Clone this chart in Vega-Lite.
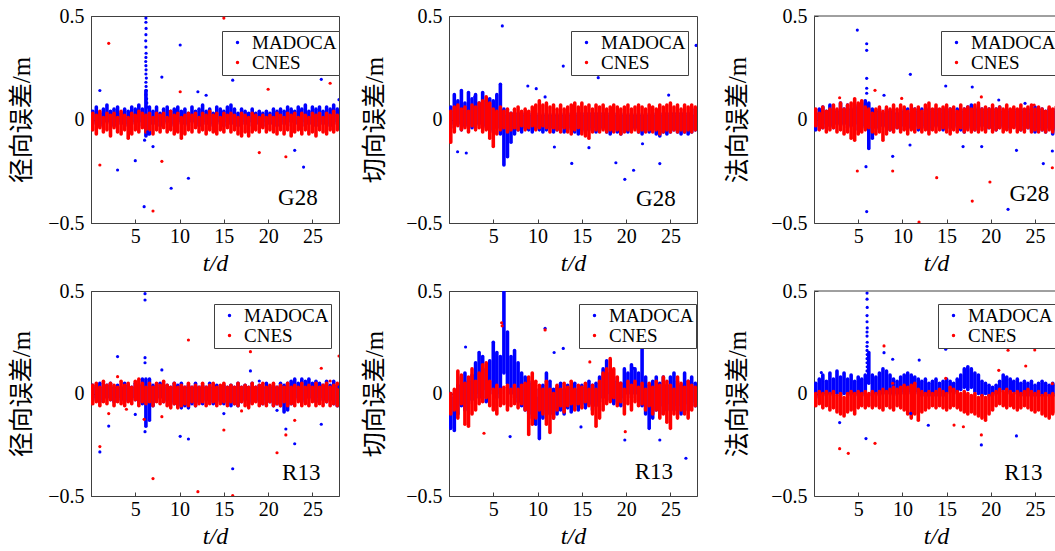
{
"$schema": "https://vega.github.io/schema/vega-lite/v6.json",
"padding": {"left": 9, "top": 5, "right": 0, "bottom": 0},
"background": "white",
"datasets": {
"bands": [
{"k":1,"t":0.2,"a":-0.02,"b":0.04,"c":-0.05,"d":0.03},{"k":1,"t":0.6,"a":-0.01,"b":0.06,"c":-0.07,"d":0.02},{"k":1,"t":1.0,"a":-0.03,"b":0.03,"c":-0.04,"d":0.04},{"k":1,"t":1.4,"a":-0.02,"b":0.05,"c":-0.06,"d":0.01},{"k":1,"t":1.8,"a":-0.01,"b":0.07,"c":-0.05,"d":0.03},{"k":1,"t":2.2,"a":-0.02,"b":0.04,"c":-0.08,"d":0.02},{"k":1,"t":2.6,"a":-0.03,"b":0.05,"c":-0.04,"d":0.03},{"k":1,"t":3.0,"a":-0.01,"b":0.06,"c":-0.06,"d":0.01},{"k":1,"t":3.4,"a":-0.02,"b":0.03,"c":-0.07,"d":0.04},{"k":1,"t":3.8,"a":-0.02,"b":0.05,"c":-0.05,"d":0.02},
{"k":1,"t":4.2,"a":-0.03,"b":0.04,"c":-0.09,"d":0.01},{"k":1,"t":4.6,"a":-0.01,"b":0.06,"c":-0.07,"d":0.03},{"k":1,"t":5.0,"a":-0.02,"b":0.05,"c":-0.05,"d":0.02},{"k":1,"t":5.4,"a":-0.01,"b":0.07,"c":-0.06,"d":0.04},{"k":1,"t":5.8,"a":-0.03,"b":0.05,"c":-0.04,"d":0.03},{"k":1,"t":6.2,"a":-0.08,"b":0.14,"c":-0.06,"d":0.02},{"k":1,"t":6.6,"a":-0.07,"b":0.06,"c":-0.05,"d":0.03},{"k":1,"t":7.0,"a":-0.02,"b":0.04,"c":-0.07,"d":0.01},{"k":1,"t":7.4,"a":-0.01,"b":0.06,"c":-0.05,"d":0.03},{"k":1,"t":7.8,"a":-0.03,"b":0.03,"c":-0.06,"d":0.02},
{"k":1,"t":8.2,"a":-0.02,"b":0.05,"c":-0.04,"d":0.03},{"k":1,"t":8.6,"a":-0.01,"b":0.06,"c":-0.06,"d":0.01},{"k":1,"t":9.0,"a":-0.02,"b":0.04,"c":-0.05,"d":0.04},{"k":1,"t":9.4,"a":-0.03,"b":0.05,"c":-0.07,"d":0.02},{"k":1,"t":9.8,"a":-0.01,"b":0.06,"c":-0.06,"d":0.03},{"k":1,"t":10.2,"a":-0.02,"b":0.04,"c":-0.09,"d":0.01},{"k":1,"t":10.6,"a":-0.02,"b":0.05,"c":-0.07,"d":0.02},{"k":1,"t":11.0,"a":-0.03,"b":0.03,"c":-0.05,"d":0.03},{"k":1,"t":11.4,"a":-0.01,"b":0.06,"c":-0.06,"d":0.02},{"k":1,"t":11.8,"a":-0.02,"b":0.04,"c":-0.04,"d":0.03},
{"k":1,"t":12.2,"a":-0.03,"b":0.05,"c":-0.06,"d":0.01},{"k":1,"t":12.6,"a":-0.01,"b":0.07,"c":-0.05,"d":0.03},{"k":1,"t":13.0,"a":-0.02,"b":0.04,"c":-0.07,"d":0.02},{"k":1,"t":13.4,"a":-0.02,"b":0.05,"c":-0.05,"d":0.04},{"k":1,"t":13.8,"a":-0.03,"b":0.03,"c":-0.06,"d":0.02},{"k":1,"t":14.2,"a":-0.01,"b":0.06,"c":-0.07,"d":0.03},{"k":1,"t":14.6,"a":-0.02,"b":0.05,"c":-0.05,"d":0.01},{"k":1,"t":15.0,"a":-0.03,"b":0.04,"c":-0.06,"d":0.03},{"k":1,"t":15.4,"a":-0.01,"b":0.06,"c":-0.04,"d":0.02},{"k":1,"t":15.8,"a":-0.02,"b":0.07,"c":-0.06,"d":0.03},
{"k":1,"t":16.2,"a":-0.02,"b":0.05,"c":-0.05,"d":0.02},{"k":1,"t":16.6,"a":-0.03,"b":0.03,"c":-0.07,"d":0.01},{"k":1,"t":17.0,"a":-0.01,"b":0.05,"c":-0.08,"d":0.03},{"k":1,"t":17.4,"a":-0.02,"b":0.04,"c":-0.06,"d":0.02},{"k":1,"t":17.8,"a":-0.03,"b":0.03,"c":-0.08,"d":0.01},{"k":1,"t":18.2,"a":-0.01,"b":0.05,"c":-0.06,"d":0.03},{"k":1,"t":18.6,"a":-0.02,"b":0.03,"c":-0.05,"d":0.02},{"k":1,"t":19.0,"a":-0.02,"b":0.04,"c":-0.06,"d":0.01},{"k":1,"t":19.4,"a":-0.03,"b":0.03,"c":-0.04,"d":0.02},{"k":1,"t":19.8,"a":-0.01,"b":0.04,"c":-0.06,"d":0.01},
{"k":1,"t":20.2,"a":-0.02,"b":0.03,"c":-0.05,"d":0.02},{"k":1,"t":20.6,"a":-0.02,"b":0.05,"c":-0.06,"d":0.01},{"k":1,"t":21.0,"a":-0.03,"b":0.04,"c":-0.07,"d":0.03},{"k":1,"t":21.4,"a":-0.01,"b":0.05,"c":-0.05,"d":0.02},{"k":1,"t":21.8,"a":-0.02,"b":0.04,"c":-0.07,"d":0.01},{"k":1,"t":22.2,"a":-0.03,"b":0.06,"c":-0.05,"d":0.03},{"k":1,"t":22.6,"a":-0.01,"b":0.05,"c":-0.08,"d":0.02},{"k":1,"t":23.0,"a":-0.02,"b":0.04,"c":-0.06,"d":0.03},{"k":1,"t":23.4,"a":-0.02,"b":0.06,"c":-0.05,"d":0.01},{"k":1,"t":23.8,"a":-0.03,"b":0.05,"c":-0.07,"d":0.03},
{"k":1,"t":24.2,"a":-0.01,"b":0.07,"c":-0.05,"d":0.02},{"k":1,"t":24.6,"a":-0.02,"b":0.04,"c":-0.07,"d":0.01},{"k":1,"t":25.0,"a":-0.02,"b":0.06,"c":-0.06,"d":0.03},{"k":1,"t":25.4,"a":-0.03,"b":0.05,"c":-0.08,"d":0.02},{"k":1,"t":25.8,"a":-0.01,"b":0.06,"c":-0.05,"d":0.03},{"k":1,"t":26.2,"a":-0.02,"b":0.04,"c":-0.06,"d":0.01},{"k":1,"t":26.6,"a":-0.02,"b":0.06,"c":-0.07,"d":0.03},{"k":1,"t":27.0,"a":-0.03,"b":0.05,"c":-0.05,"d":0.02},{"k":1,"t":27.4,"a":-0.01,"b":0.07,"c":-0.06,"d":0.04},{"k":1,"t":27.8,"a":-0.02,"b":0.05,"c":-0.05,"d":0.02},

{"k":2,"t":0.2,"a":-0.02,"b":0.06,"c":-0.11,"d":0.04},{"k":2,"t":0.6,"a":-0.04,"b":0.12,"c":-0.06,"d":0.06},{"k":2,"t":1.0,"a":-0.02,"b":0.09,"c":-0.03,"d":0.07},{"k":2,"t":1.4,"a":-0.05,"b":0.14,"c":-0.05,"d":0.05},{"k":2,"t":1.8,"a":-0.03,"b":0.08,"c":-0.04,"d":0.06},{"k":2,"t":2.2,"a":-0.02,"b":0.13,"c":-0.06,"d":0.04},{"k":2,"t":2.6,"a":-0.04,"b":0.10,"c":-0.03,"d":0.07},{"k":2,"t":3.0,"a":-0.03,"b":0.12,"c":-0.05,"d":0.06},{"k":2,"t":3.4,"a":-0.02,"b":0.08,"c":-0.04,"d":0.08},{"k":2,"t":3.8,"a":-0.04,"b":0.13,"c":-0.06,"d":0.09},
{"k":2,"t":4.2,"a":-0.03,"b":0.09,"c":-0.05,"d":0.11},{"k":2,"t":4.6,"a":-0.05,"b":0.10,"c":-0.09,"d":0.08},{"k":2,"t":5.0,"a":-0.06,"b":0.09,"c":-0.13,"d":0.05},{"k":2,"t":5.4,"a":-0.04,"b":0.12,"c":-0.07,"d":0.04},{"k":2,"t":5.8,"a":-0.07,"b":0.17,"c":-0.05,"d":0.06},{"k":2,"t":6.2,"a":-0.22,"b":0.05,"c":-0.04,"d":0.04},{"k":2,"t":6.6,"a":-0.18,"b":0.02,"c":-0.06,"d":0.05},{"k":2,"t":7.0,"a":-0.11,"b":0.03,"c":-0.05,"d":0.03},{"k":2,"t":7.4,"a":-0.07,"b":0.02,"c":-0.04,"d":0.05},{"k":2,"t":7.8,"a":-0.05,"b":0.03,"c":-0.05,"d":0.06},
{"k":2,"t":8.2,"a":-0.06,"b":0.02,"c":-0.03,"d":0.04},{"k":2,"t":8.6,"a":-0.04,"b":0.03,"c":-0.05,"d":0.05},{"k":2,"t":9.0,"a":-0.05,"b":0.02,"c":-0.04,"d":0.04},{"k":2,"t":9.4,"a":-0.06,"b":0.03,"c":-0.03,"d":0.06},{"k":2,"t":9.8,"a":-0.04,"b":0.02,"c":-0.05,"d":0.07},{"k":2,"t":10.2,"a":-0.05,"b":0.03,"c":-0.04,"d":0.09},{"k":2,"t":10.6,"a":-0.06,"b":0.02,"c":-0.03,"d":0.07},{"k":2,"t":11.0,"a":-0.05,"b":0.03,"c":-0.04,"d":0.08},{"k":2,"t":11.4,"a":-0.04,"b":0.02,"c":-0.06,"d":0.06},{"k":2,"t":11.8,"a":-0.06,"b":0.03,"c":-0.04,"d":0.07},
{"k":2,"t":12.2,"a":-0.05,"b":0.02,"c":-0.05,"d":0.05},{"k":2,"t":12.6,"a":-0.04,"b":0.03,"c":-0.06,"d":0.07},{"k":2,"t":13.0,"a":-0.06,"b":0.02,"c":-0.04,"d":0.05},{"k":2,"t":13.4,"a":-0.05,"b":0.03,"c":-0.06,"d":0.06},{"k":2,"t":13.8,"a":-0.04,"b":0.02,"c":-0.07,"d":0.07},{"k":2,"t":14.2,"a":-0.06,"b":0.03,"c":-0.05,"d":0.08},{"k":2,"t":14.6,"a":-0.07,"b":0.02,"c":-0.04,"d":0.06},{"k":2,"t":15.0,"a":-0.05,"b":0.03,"c":-0.07,"d":0.08},{"k":2,"t":15.4,"a":-0.06,"b":0.02,"c":-0.08,"d":0.06},{"k":2,"t":15.8,"a":-0.05,"b":0.03,"c":-0.09,"d":0.07},
{"k":2,"t":16.2,"a":-0.04,"b":0.02,"c":-0.06,"d":0.05},{"k":2,"t":16.6,"a":-0.06,"b":0.03,"c":-0.05,"d":0.07},{"k":2,"t":17.0,"a":-0.05,"b":0.02,"c":-0.06,"d":0.06},{"k":2,"t":17.4,"a":-0.04,"b":0.03,"c":-0.05,"d":0.07},{"k":2,"t":17.8,"a":-0.06,"b":0.02,"c":-0.06,"d":0.05},{"k":2,"t":18.2,"a":-0.07,"b":0.03,"c":-0.05,"d":0.06},{"k":2,"t":18.6,"a":-0.05,"b":0.02,"c":-0.06,"d":0.07},{"k":2,"t":19.0,"a":-0.06,"b":0.03,"c":-0.05,"d":0.06},{"k":2,"t":19.4,"a":-0.07,"b":0.02,"c":-0.07,"d":0.05},{"k":2,"t":19.8,"a":-0.05,"b":0.03,"c":-0.06,"d":0.06},
{"k":2,"t":20.2,"a":-0.06,"b":0.02,"c":-0.05,"d":0.07},{"k":2,"t":20.6,"a":-0.05,"b":0.03,"c":-0.06,"d":0.05},{"k":2,"t":21.0,"a":-0.04,"b":0.02,"c":-0.05,"d":0.06},{"k":2,"t":21.4,"a":-0.06,"b":0.03,"c":-0.06,"d":0.07},{"k":2,"t":21.8,"a":-0.07,"b":0.02,"c":-0.05,"d":0.06},{"k":2,"t":22.2,"a":-0.05,"b":0.03,"c":-0.06,"d":0.05},{"k":2,"t":22.6,"a":-0.06,"b":0.02,"c":-0.05,"d":0.07},{"k":2,"t":23.0,"a":-0.05,"b":0.03,"c":-0.06,"d":0.06},{"k":2,"t":23.4,"a":-0.07,"b":0.02,"c":-0.05,"d":0.05},{"k":2,"t":23.8,"a":-0.08,"b":0.03,"c":-0.07,"d":0.07},
{"k":2,"t":24.2,"a":-0.06,"b":0.02,"c":-0.06,"d":0.06},{"k":2,"t":24.6,"a":-0.07,"b":0.03,"c":-0.05,"d":0.07},{"k":2,"t":25.0,"a":-0.06,"b":0.02,"c":-0.06,"d":0.08},{"k":2,"t":25.4,"a":-0.05,"b":0.03,"c":-0.05,"d":0.06},{"k":2,"t":25.8,"a":-0.06,"b":0.02,"c":-0.06,"d":0.07},{"k":2,"t":26.2,"a":-0.07,"b":0.03,"c":-0.05,"d":0.05},{"k":2,"t":26.6,"a":-0.06,"b":0.02,"c":-0.06,"d":0.07},{"k":2,"t":27.0,"a":-0.07,"b":0.03,"c":-0.05,"d":0.06},{"k":2,"t":27.4,"a":-0.06,"b":0.02,"c":-0.06,"d":0.07},{"k":2,"t":27.8,"a":-0.05,"b":0.05,"c":-0.05,"d":0.06},

{"k":3,"t":0.2,"a":-0.05,"b":0.03,"c":-0.03,"d":0.05},{"k":3,"t":0.6,"a":-0.03,"b":0.05,"c":-0.05,"d":0.03},{"k":3,"t":1.0,"a":-0.04,"b":0.06,"c":-0.04,"d":0.06},{"k":3,"t":1.4,"a":-0.02,"b":0.04,"c":-0.06,"d":0.04},{"k":3,"t":1.8,"a":-0.03,"b":0.07,"c":-0.05,"d":0.05},{"k":3,"t":2.2,"a":-0.04,"b":0.05,"c":-0.04,"d":0.07},{"k":3,"t":2.6,"a":-0.02,"b":0.04,"c":-0.06,"d":0.05},{"k":3,"t":3.0,"a":-0.03,"b":0.08,"c":-0.05,"d":0.08},{"k":3,"t":3.4,"a":-0.02,"b":0.05,"c":-0.07,"d":0.05},{"k":3,"t":3.8,"a":-0.04,"b":0.07,"c":-0.06,"d":0.07},
{"k":3,"t":4.2,"a":-0.03,"b":0.05,"c":-0.09,"d":0.08},{"k":3,"t":4.6,"a":-0.02,"b":0.06,"c":-0.10,"d":0.10},{"k":3,"t":5.0,"a":-0.05,"b":0.07,"c":-0.07,"d":0.08},{"k":3,"t":5.4,"a":-0.03,"b":0.08,"c":-0.06,"d":0.09},{"k":3,"t":5.8,"a":-0.04,"b":0.09,"c":-0.05,"d":0.06},{"k":3,"t":6.2,"a":-0.14,"b":0.08,"c":-0.04,"d":0.05},{"k":3,"t":6.6,"a":-0.09,"b":0.05,"c":-0.06,"d":0.03},{"k":3,"t":7.0,"a":-0.04,"b":0.04,"c":-0.07,"d":0.05},{"k":3,"t":7.4,"a":-0.05,"b":0.05,"c":-0.06,"d":0.06},{"k":3,"t":7.8,"a":-0.03,"b":0.03,"c":-0.10,"d":0.04},
{"k":3,"t":8.2,"a":-0.04,"b":0.05,"c":-0.07,"d":0.06},{"k":3,"t":8.6,"a":-0.05,"b":0.04,"c":-0.05,"d":0.05},{"k":3,"t":9.0,"a":-0.03,"b":0.05,"c":-0.06,"d":0.07},{"k":3,"t":9.4,"a":-0.04,"b":0.03,"c":-0.04,"d":0.05},{"k":3,"t":9.8,"a":-0.05,"b":0.05,"c":-0.06,"d":0.07},{"k":3,"t":10.2,"a":-0.03,"b":0.04,"c":-0.05,"d":0.06},{"k":3,"t":10.6,"a":-0.04,"b":0.05,"c":-0.07,"d":0.04},{"k":3,"t":11.0,"a":-0.04,"b":0.03,"c":-0.05,"d":0.07},{"k":3,"t":11.4,"a":-0.03,"b":0.05,"c":-0.06,"d":0.05},{"k":3,"t":11.8,"a":-0.05,"b":0.04,"c":-0.04,"d":0.06},
{"k":3,"t":12.2,"a":-0.04,"b":0.05,"c":-0.06,"d":0.04},{"k":3,"t":12.6,"a":-0.03,"b":0.03,"c":-0.05,"d":0.07},{"k":3,"t":13.0,"a":-0.05,"b":0.05,"c":-0.07,"d":0.08},{"k":3,"t":13.4,"a":-0.04,"b":0.04,"c":-0.05,"d":0.05},{"k":3,"t":13.8,"a":-0.03,"b":0.05,"c":-0.06,"d":0.07},{"k":3,"t":14.2,"a":-0.04,"b":0.03,"c":-0.05,"d":0.05},{"k":3,"t":14.6,"a":-0.05,"b":0.05,"c":-0.04,"d":0.06},{"k":3,"t":15.0,"a":-0.03,"b":0.04,"c":-0.06,"d":0.07},{"k":3,"t":15.4,"a":-0.04,"b":0.05,"c":-0.07,"d":0.05},{"k":3,"t":15.8,"a":-0.04,"b":0.03,"c":-0.05,"d":0.06},
{"k":3,"t":16.2,"a":-0.03,"b":0.05,"c":-0.06,"d":0.04},{"k":3,"t":16.6,"a":-0.05,"b":0.04,"c":-0.04,"d":0.07},{"k":3,"t":17.0,"a":-0.06,"b":0.05,"c":-0.06,"d":0.05},{"k":3,"t":17.4,"a":-0.04,"b":0.06,"c":-0.05,"d":0.06},{"k":3,"t":17.8,"a":-0.03,"b":0.07,"c":-0.06,"d":0.05},{"k":3,"t":18.2,"a":-0.05,"b":0.05,"c":-0.05,"d":0.07},{"k":3,"t":18.6,"a":-0.04,"b":0.06,"c":-0.06,"d":0.08},{"k":3,"t":19.0,"a":-0.03,"b":0.05,"c":-0.05,"d":0.05},{"k":3,"t":19.4,"a":-0.05,"b":0.04,"c":-0.06,"d":0.06},{"k":3,"t":19.8,"a":-0.04,"b":0.05,"c":-0.04,"d":0.05},
{"k":3,"t":20.2,"a":-0.03,"b":0.04,"c":-0.06,"d":0.07},{"k":3,"t":20.6,"a":-0.05,"b":0.05,"c":-0.05,"d":0.05},{"k":3,"t":21.0,"a":-0.04,"b":0.06,"c":-0.04,"d":0.06},{"k":3,"t":21.4,"a":-0.03,"b":0.04,"c":-0.06,"d":0.05},{"k":3,"t":21.8,"a":-0.04,"b":0.05,"c":-0.05,"d":0.07},{"k":3,"t":22.2,"a":-0.05,"b":0.04,"c":-0.06,"d":0.05},{"k":3,"t":22.6,"a":-0.03,"b":0.05,"c":-0.04,"d":0.06},{"k":3,"t":23.0,"a":-0.04,"b":0.04,"c":-0.06,"d":0.05},{"k":3,"t":23.4,"a":-0.05,"b":0.05,"c":-0.05,"d":0.07},{"k":3,"t":23.8,"a":-0.03,"b":0.04,"c":-0.06,"d":0.05},
{"k":3,"t":24.2,"a":-0.04,"b":0.05,"c":-0.04,"d":0.06},{"k":3,"t":24.6,"a":-0.05,"b":0.03,"c":-0.06,"d":0.07},{"k":3,"t":25.0,"a":-0.06,"b":0.06,"c":-0.05,"d":0.05},{"k":3,"t":25.4,"a":-0.04,"b":0.04,"c":-0.06,"d":0.06},{"k":3,"t":25.8,"a":-0.05,"b":0.05,"c":-0.05,"d":0.05},{"k":3,"t":26.2,"a":-0.06,"b":0.04,"c":-0.06,"d":0.04},{"k":3,"t":26.6,"a":-0.04,"b":0.05,"c":-0.05,"d":0.06},{"k":3,"t":27.0,"a":-0.07,"b":0.04,"c":-0.06,"d":0.05},{"k":3,"t":27.4,"a":-0.05,"b":0.05,"c":-0.04,"d":0.06},{"k":3,"t":27.8,"a":-0.04,"b":0.04,"c":-0.06,"d":0.05},

{"k":4,"t":0.2,"a":-0.03,"b":0.04,"c":-0.05,"d":0.04},{"k":4,"t":0.6,"a":-0.02,"b":0.03,"c":-0.04,"d":0.05},{"k":4,"t":1.0,"a":-0.04,"b":0.05,"c":-0.06,"d":0.03},{"k":4,"t":1.4,"a":-0.03,"b":0.03,"c":-0.04,"d":0.06},{"k":4,"t":1.8,"a":-0.02,"b":0.04,"c":-0.05,"d":0.04},{"k":4,"t":2.2,"a":-0.03,"b":0.05,"c":-0.03,"d":0.05},{"k":4,"t":2.6,"a":-0.04,"b":0.03,"c":-0.06,"d":0.04},{"k":4,"t":3.0,"a":-0.02,"b":0.04,"c":-0.04,"d":0.03},{"k":4,"t":3.4,"a":-0.03,"b":0.03,"c":-0.05,"d":0.06},{"k":4,"t":3.8,"a":-0.04,"b":0.05,"c":-0.06,"d":0.04},
{"k":4,"t":4.2,"a":-0.03,"b":0.04,"c":-0.04,"d":0.05},{"k":4,"t":4.6,"a":-0.02,"b":0.03,"c":-0.05,"d":0.03},{"k":4,"t":5.0,"a":-0.03,"b":0.05,"c":-0.03,"d":0.06},{"k":4,"t":5.4,"a":-0.04,"b":0.04,"c":-0.06,"d":0.07},{"k":4,"t":5.8,"a":-0.05,"b":0.07,"c":-0.04,"d":0.05},{"k":4,"t":6.2,"a":-0.16,"b":0.07,"c":-0.05,"d":0.03},{"k":4,"t":6.6,"a":-0.13,"b":0.07,"c":-0.04,"d":0.05},{"k":4,"t":7.0,"a":-0.06,"b":0.04,"c":-0.06,"d":0.03},{"k":4,"t":7.4,"a":-0.03,"b":0.03,"c":-0.04,"d":0.05},{"k":4,"t":7.8,"a":-0.02,"b":0.05,"c":-0.05,"d":0.04},
{"k":4,"t":8.2,"a":-0.04,"b":0.03,"c":-0.04,"d":0.06},{"k":4,"t":8.6,"a":-0.03,"b":0.04,"c":-0.06,"d":0.04},{"k":4,"t":9.0,"a":-0.04,"b":0.03,"c":-0.07,"d":0.03},{"k":4,"t":9.4,"a":-0.05,"b":0.05,"c":-0.05,"d":0.05},{"k":4,"t":9.8,"a":-0.06,"b":0.04,"c":-0.07,"d":0.03},{"k":4,"t":10.2,"a":-0.07,"b":0.05,"c":-0.06,"d":0.04},{"k":4,"t":10.6,"a":-0.06,"b":0.03,"c":-0.05,"d":0.03},{"k":4,"t":11.0,"a":-0.07,"b":0.04,"c":-0.06,"d":0.05},{"k":4,"t":11.4,"a":-0.05,"b":0.03,"c":-0.04,"d":0.03},{"k":4,"t":11.8,"a":-0.06,"b":0.05,"c":-0.06,"d":0.04},
{"k":4,"t":12.2,"a":-0.04,"b":0.03,"c":-0.05,"d":0.03},{"k":4,"t":12.6,"a":-0.05,"b":0.04,"c":-0.04,"d":0.05},{"k":4,"t":13.0,"a":-0.03,"b":0.03,"c":-0.06,"d":0.03},{"k":4,"t":13.4,"a":-0.04,"b":0.05,"c":-0.05,"d":0.04},{"k":4,"t":13.8,"a":-0.05,"b":0.03,"c":-0.04,"d":0.05},{"k":4,"t":14.2,"a":-0.03,"b":0.04,"c":-0.06,"d":0.03},{"k":4,"t":14.6,"a":-0.04,"b":0.03,"c":-0.05,"d":0.04},{"k":4,"t":15.0,"a":-0.05,"b":0.04,"c":-0.04,"d":0.05},{"k":4,"t":15.4,"a":-0.04,"b":0.03,"c":-0.06,"d":0.03},{"k":4,"t":15.8,"a":-0.06,"b":0.04,"c":-0.04,"d":0.04},
{"k":4,"t":16.2,"a":-0.05,"b":0.03,"c":-0.05,"d":0.03},{"k":4,"t":16.6,"a":-0.06,"b":0.05,"c":-0.06,"d":0.05},{"k":4,"t":17.0,"a":-0.04,"b":0.03,"c":-0.04,"d":0.03},{"k":4,"t":17.4,"a":-0.03,"b":0.04,"c":-0.06,"d":0.04},{"k":4,"t":17.8,"a":-0.05,"b":0.03,"c":-0.07,"d":0.03},{"k":4,"t":18.2,"a":-0.04,"b":0.05,"c":-0.05,"d":0.05},{"k":4,"t":18.6,"a":-0.03,"b":0.03,"c":-0.04,"d":0.03},{"k":4,"t":19.0,"a":-0.04,"b":0.04,"c":-0.06,"d":0.04},{"k":4,"t":19.4,"a":-0.05,"b":0.03,"c":-0.05,"d":0.05},{"k":4,"t":19.8,"a":-0.03,"b":0.05,"c":-0.06,"d":0.03},
{"k":4,"t":20.2,"a":-0.04,"b":0.03,"c":-0.04,"d":0.04},{"k":4,"t":20.6,"a":-0.06,"b":0.04,"c":-0.06,"d":0.05},{"k":4,"t":21.0,"a":-0.05,"b":0.03,"c":-0.05,"d":0.03},{"k":4,"t":21.4,"a":-0.06,"b":0.05,"c":-0.06,"d":0.04},{"k":4,"t":21.8,"a":-0.09,"b":0.04,"c":-0.04,"d":0.03},{"k":4,"t":22.2,"a":-0.08,"b":0.05,"c":-0.06,"d":0.05},{"k":4,"t":22.6,"a":-0.05,"b":0.06,"c":-0.05,"d":0.03},{"k":4,"t":23.0,"a":-0.03,"b":0.07,"c":-0.06,"d":0.04},{"k":4,"t":23.4,"a":-0.02,"b":0.05,"c":-0.04,"d":0.03},{"k":4,"t":23.8,"a":-0.04,"b":0.07,"c":-0.06,"d":0.05},
{"k":4,"t":24.2,"a":-0.03,"b":0.06,"c":-0.05,"d":0.03},{"k":4,"t":24.6,"a":-0.02,"b":0.07,"c":-0.06,"d":0.04},{"k":4,"t":25.0,"a":-0.03,"b":0.05,"c":-0.04,"d":0.03},{"k":4,"t":25.4,"a":-0.04,"b":0.06,"c":-0.06,"d":0.05},{"k":4,"t":25.8,"a":-0.02,"b":0.05,"c":-0.05,"d":0.03},{"k":4,"t":26.2,"a":-0.03,"b":0.04,"c":-0.06,"d":0.04},{"k":4,"t":26.6,"a":-0.04,"b":0.06,"c":-0.04,"d":0.05},{"k":4,"t":27.0,"a":-0.03,"b":0.04,"c":-0.06,"d":0.03},{"k":4,"t":27.4,"a":-0.05,"b":0.06,"c":-0.05,"d":0.04},{"k":4,"t":27.8,"a":-0.06,"b":0.04,"c":-0.06,"d":0.05},

{"k":5,"t":0.2,"a":-0.17,"b":0.0,"c":-0.10,"d":0.0},{"k":5,"t":0.6,"a":-0.18,"b":-0.02,"c":-0.08,"d":0.02},{"k":5,"t":1.0,"a":-0.10,"b":0.04,"c":-0.12,"d":0.11},{"k":5,"t":1.4,"a":-0.06,"b":0.08,"c":-0.05,"d":0.09},{"k":5,"t":1.8,"a":-0.08,"b":0.10,"c":-0.15,"d":0.05},{"k":5,"t":2.2,"a":-0.05,"b":0.06,"c":-0.16,"d":0.08},{"k":5,"t":2.6,"a":-0.03,"b":0.09,"c":-0.10,"d":0.12},{"k":5,"t":3.0,"a":0.0,"b":0.15,"c":-0.08,"d":0.06},{"k":5,"t":3.4,"a":-0.02,"b":0.20,"c":-0.05,"d":0.10},{"k":5,"t":3.8,"a":0.02,"b":0.18,"c":-0.04,"d":0.14},
{"k":5,"t":4.2,"a":-0.04,"b":0.12,"c":-0.02,"d":0.15},{"k":5,"t":4.6,"a":0.0,"b":0.16,"c":-0.06,"d":0.06},{"k":5,"t":5.0,"a":0.02,"b":0.25,"c":-0.08,"d":0.02},{"k":5,"t":5.4,"a":-0.02,"b":0.20,"c":-0.10,"d":0.04},{"k":5,"t":5.8,"a":0.0,"b":0.18,"c":-0.06,"d":0.02},{"k":5,"t":6.2,"a":0.10,"b":0.50,"c":-0.05,"d":0.03},{"k":5,"t":6.6,"a":0.05,"b":0.30,"c":-0.08,"d":0.04},{"k":5,"t":7.0,"a":0.0,"b":0.18,"c":-0.06,"d":0.02},{"k":5,"t":7.4,"a":-0.02,"b":0.21,"c":-0.05,"d":0.04},{"k":5,"t":7.8,"a":-0.04,"b":0.15,"c":-0.07,"d":0.02},
{"k":5,"t":8.2,"a":-0.06,"b":0.10,"c":-0.05,"d":0.04},{"k":5,"t":8.6,"a":-0.08,"b":0.08,"c":-0.08,"d":0.05},{"k":5,"t":9.0,"a":-0.10,"b":0.06,"c":-0.20,"d":0.08},{"k":5,"t":9.4,"a":-0.12,"b":0.05,"c":-0.15,"d":0.10},{"k":5,"t":9.8,"a":-0.15,"b":0.02,"c":-0.12,"d":0.06},{"k":5,"t":10.2,"a":-0.22,"b":-0.02,"c":-0.08,"d":0.04},{"k":5,"t":10.6,"a":-0.12,"b":0.04,"c":-0.10,"d":0.02},{"k":5,"t":11.0,"a":-0.08,"b":0.10,"c":-0.15,"d":0.06},{"k":5,"t":11.4,"a":-0.10,"b":0.06,"c":-0.19,"d":0.02},{"k":5,"t":11.8,"a":-0.12,"b":0.02,"c":-0.12,"d":0.0},
{"k":5,"t":12.2,"a":-0.10,"b":0.03,"c":-0.08,"d":0.04},{"k":5,"t":12.6,"a":-0.08,"b":0.05,"c":-0.06,"d":0.02},{"k":5,"t":13.0,"a":-0.10,"b":0.02,"c":-0.09,"d":0.05},{"k":5,"t":13.4,"a":-0.07,"b":0.04,"c":-0.06,"d":0.03},{"k":5,"t":13.8,"a":-0.09,"b":0.03,"c":-0.05,"d":0.06},{"k":5,"t":14.2,"a":-0.06,"b":0.05,"c":-0.08,"d":0.02},{"k":5,"t":14.6,"a":-0.08,"b":0.02,"c":-0.05,"d":0.04},{"k":5,"t":15.0,"a":-0.05,"b":0.04,"c":-0.07,"d":0.03},{"k":5,"t":15.4,"a":-0.07,"b":0.03,"c":-0.04,"d":0.05},{"k":5,"t":15.8,"a":-0.05,"b":0.06,"c":-0.06,"d":0.02},
{"k":5,"t":16.2,"a":-0.08,"b":0.04,"c":-0.10,"d":0.04},{"k":5,"t":16.6,"a":-0.06,"b":0.05,"c":-0.16,"d":0.02},{"k":5,"t":17.0,"a":-0.04,"b":0.08,"c":-0.12,"d":0.06},{"k":5,"t":17.4,"a":-0.02,"b":0.12,"c":-0.08,"d":0.10},{"k":5,"t":17.8,"a":0.0,"b":0.16,"c":-0.05,"d":0.12},{"k":5,"t":18.2,"a":-0.03,"b":0.10,"c":-0.04,"d":0.17},{"k":5,"t":18.6,"a":-0.05,"b":0.08,"c":-0.02,"d":0.12},{"k":5,"t":19.0,"a":-0.04,"b":0.06,"c":-0.06,"d":0.08},{"k":5,"t":19.4,"a":-0.06,"b":0.05,"c":-0.04,"d":0.05},{"k":5,"t":19.8,"a":-0.02,"b":0.12,"c":-0.10,"d":0.02},
{"k":5,"t":20.2,"a":0.0,"b":0.10,"c":-0.05,"d":0.06},{"k":5,"t":20.6,"a":-0.02,"b":0.14,"c":-0.08,"d":0.04},{"k":5,"t":21.0,"a":0.0,"b":0.12,"c":-0.04,"d":0.06},{"k":5,"t":21.4,"a":-0.03,"b":0.10,"c":-0.06,"d":0.03},{"k":5,"t":21.8,"a":-0.06,"b":0.23,"c":-0.05,"d":0.05},{"k":5,"t":22.2,"a":-0.10,"b":0.08,"c":-0.08,"d":0.02},{"k":5,"t":22.6,"a":-0.17,"b":0.04,"c":-0.06,"d":0.05},{"k":5,"t":23.0,"a":-0.12,"b":0.06,"c":-0.10,"d":0.03},{"k":5,"t":23.4,"a":-0.08,"b":0.08,"c":-0.08,"d":0.06},{"k":5,"t":23.8,"a":-0.10,"b":0.05,"c":-0.12,"d":0.04},
{"k":5,"t":24.2,"a":-0.06,"b":0.08,"c":-0.10,"d":0.08},{"k":5,"t":24.6,"a":-0.08,"b":0.04,"c":-0.14,"d":0.06},{"k":5,"t":25.0,"a":-0.05,"b":0.08,"c":-0.17,"d":0.04},{"k":5,"t":25.4,"a":-0.08,"b":0.10,"c":-0.10,"d":0.02},{"k":5,"t":25.8,"a":-0.06,"b":0.06,"c":-0.12,"d":0.08},{"k":5,"t":26.2,"a":-0.10,"b":0.04,"c":-0.08,"d":0.05},{"k":5,"t":26.6,"a":-0.05,"b":0.10,"c":-0.10,"d":0.03},{"k":5,"t":27.0,"a":-0.08,"b":0.06,"c":-0.12,"d":0.06},{"k":5,"t":27.4,"a":-0.04,"b":0.08,"c":-0.08,"d":0.04},{"k":5,"t":27.8,"a":-0.06,"b":0.05,"c":-0.06,"d":0.03},

{"k":6,"t":0.2,"a":-0.02,"b":0.05,"c":-0.06,"d":0.0},{"k":6,"t":0.6,"a":-0.01,"b":0.07,"c":-0.05,"d":0.01},{"k":6,"t":1.0,"a":0.0,"b":0.09,"c":-0.07,"d":0.0},{"k":6,"t":1.4,"a":-0.01,"b":0.06,"c":-0.06,"d":0.01},{"k":6,"t":1.8,"a":0.0,"b":0.10,"c":-0.08,"d":0.0},{"k":6,"t":2.2,"a":-0.01,"b":0.07,"c":-0.07,"d":0.01},{"k":6,"t":2.6,"a":0.0,"b":0.11,"c":-0.09,"d":-0.01},{"k":6,"t":3.0,"a":-0.01,"b":0.08,"c":-0.10,"d":0.0},{"k":6,"t":3.4,"a":0.0,"b":0.10,"c":-0.11,"d":-0.02},{"k":6,"t":3.8,"a":-0.01,"b":0.07,"c":-0.09,"d":0.0},
{"k":6,"t":4.2,"a":0.0,"b":0.09,"c":-0.08,"d":0.01},{"k":6,"t":4.6,"a":-0.01,"b":0.06,"c":-0.10,"d":0.0},{"k":6,"t":5.0,"a":0.0,"b":0.08,"c":-0.07,"d":0.01},{"k":6,"t":5.4,"a":-0.01,"b":0.07,"c":-0.06,"d":0.0},{"k":6,"t":5.8,"a":0.0,"b":0.09,"c":-0.07,"d":0.01},{"k":6,"t":6.2,"a":0.05,"b":0.20,"c":-0.06,"d":0.0},{"k":6,"t":6.6,"a":-0.01,"b":0.09,"c":-0.07,"d":0.01},{"k":6,"t":7.0,"a":0.0,"b":0.08,"c":-0.06,"d":0.0},{"k":6,"t":7.4,"a":-0.01,"b":0.10,"c":-0.07,"d":0.01},{"k":6,"t":7.8,"a":0.0,"b":0.12,"c":-0.08,"d":0.02},
{"k":6,"t":8.2,"a":0.01,"b":0.11,"c":-0.06,"d":0.01},{"k":6,"t":8.6,"a":0.0,"b":0.09,"c":-0.07,"d":0.02},{"k":6,"t":9.0,"a":-0.01,"b":0.07,"c":-0.08,"d":0.03},{"k":6,"t":9.4,"a":0.0,"b":0.06,"c":-0.06,"d":0.02},{"k":6,"t":9.8,"a":0.01,"b":0.08,"c":-0.07,"d":0.03},{"k":6,"t":10.2,"a":0.0,"b":0.09,"c":-0.08,"d":0.04},{"k":6,"t":10.6,"a":0.01,"b":0.10,"c":-0.10,"d":0.03},{"k":6,"t":11.0,"a":0.0,"b":0.09,"c":-0.12,"d":0.04},{"k":6,"t":11.4,"a":0.01,"b":0.08,"c":-0.10,"d":0.05},{"k":6,"t":11.8,"a":0.0,"b":0.07,"c":-0.13,"d":0.02},
{"k":6,"t":12.2,"a":-0.01,"b":0.06,"c":-0.09,"d":0.01},{"k":6,"t":12.6,"a":0.0,"b":0.07,"c":-0.08,"d":0.0},{"k":6,"t":13.0,"a":-0.01,"b":0.05,"c":-0.07,"d":0.01},{"k":6,"t":13.4,"a":0.0,"b":0.06,"c":-0.06,"d":0.0},{"k":6,"t":13.8,"a":-0.01,"b":0.07,"c":-0.07,"d":0.01},{"k":6,"t":14.2,"a":0.0,"b":0.05,"c":-0.06,"d":0.02},{"k":6,"t":14.6,"a":-0.01,"b":0.06,"c":-0.07,"d":0.01},{"k":6,"t":15.0,"a":0.0,"b":0.07,"c":-0.08,"d":0.0},{"k":6,"t":15.4,"a":0.01,"b":0.06,"c":-0.07,"d":0.03},{"k":6,"t":15.8,"a":0.0,"b":0.05,"c":-0.06,"d":0.02},
{"k":6,"t":16.2,"a":0.01,"b":0.07,"c":-0.07,"d":0.01},{"k":6,"t":16.6,"a":0.02,"b":0.09,"c":-0.08,"d":0.0},{"k":6,"t":17.0,"a":0.03,"b":0.12,"c":-0.09,"d":0.01},{"k":6,"t":17.4,"a":0.02,"b":0.13,"c":-0.10,"d":0.0},{"k":6,"t":17.8,"a":0.03,"b":0.12,"c":-0.09,"d":-0.01},{"k":6,"t":18.2,"a":0.01,"b":0.10,"c":-0.10,"d":0.0},{"k":6,"t":18.6,"a":0.0,"b":0.09,"c":-0.11,"d":-0.02},{"k":6,"t":19.0,"a":-0.01,"b":0.06,"c":-0.12,"d":-0.01},{"k":6,"t":19.4,"a":0.0,"b":0.05,"c":-0.13,"d":-0.02},{"k":6,"t":19.8,"a":-0.01,"b":0.04,"c":-0.10,"d":-0.01},
{"k":6,"t":20.2,"a":-0.01,"b":0.03,"c":-0.08,"d":0.0},{"k":6,"t":20.6,"a":0.0,"b":0.04,"c":-0.06,"d":0.01},{"k":6,"t":21.0,"a":0.01,"b":0.06,"c":-0.05,"d":0.02},{"k":6,"t":21.4,"a":0.02,"b":0.09,"c":-0.06,"d":0.01},{"k":6,"t":21.8,"a":0.01,"b":0.08,"c":-0.07,"d":0.02},{"k":6,"t":22.2,"a":0.0,"b":0.07,"c":-0.06,"d":0.01},{"k":6,"t":22.6,"a":0.01,"b":0.06,"c":-0.07,"d":0.0},{"k":6,"t":23.0,"a":0.0,"b":0.07,"c":-0.08,"d":0.01},{"k":6,"t":23.4,"a":-0.01,"b":0.05,"c":-0.07,"d":0.0},{"k":6,"t":23.8,"a":0.0,"b":0.06,"c":-0.06,"d":0.01},
{"k":6,"t":24.2,"a":-0.01,"b":0.05,"c":-0.07,"d":0.02},{"k":6,"t":24.6,"a":0.0,"b":0.06,"c":-0.08,"d":0.01},{"k":6,"t":25.0,"a":-0.01,"b":0.04,"c":-0.09,"d":0.0},{"k":6,"t":25.4,"a":0.0,"b":0.05,"c":-0.08,"d":0.01},{"k":6,"t":25.8,"a":-0.01,"b":0.06,"c":-0.10,"d":-0.01},{"k":6,"t":26.2,"a":0.0,"b":0.05,"c":-0.11,"d":0.0},{"k":6,"t":26.6,"a":-0.01,"b":0.04,"c":-0.12,"d":-0.01},{"k":6,"t":27.0,"a":0.0,"b":0.05,"c":-0.10,"d":0.0},{"k":6,"t":27.4,"a":-0.01,"b":0.04,"c":-0.09,"d":-0.01},{"k":6,"t":27.8,"a":0.0,"b":0.05,"c":-0.08,"d":0.0}
],
"pts": [
{"k":1,"s":"M","t":1.0,"v":0.14},{"k":1,"s":"M","t":3.0,"v":-0.244},{"k":1,"s":"M","t":5.0,"v":-0.199},{"k":1,"s":"M","t":6.0,"v":-0.421},{"k":1,"s":"M","t":6.05,"v":-0.1},{"k":1,"s":"M","t":7.0,"v":-0.131},{"k":1,"s":"M","t":8.0,"v":0.205},{"k":1,"s":"M","t":9.05,"v":-0.332},{"k":1,"s":"M","t":10.07,"v":0.36},{"k":1,"s":"M","t":11.0,"v":-0.284},{"k":1,"s":"M","t":12.07,"v":0.134},{"k":1,"s":"M","t":13.0,"v":0.117},{"k":1,"s":"M","t":16.0,"v":0.19},{"k":1,"s":"M","t":21.0,"v":0.22},{"k":1,"s":"M","t":23.0,"v":-0.149},{"k":1,"s":"M","t":24.0,"v":-0.23},{"k":1,"s":"M","t":26.0,"v":0.194},{"k":1,"s":"M","t":28.0,"v":0.096},
{"k":1,"s":"M","t":6.2,"v":0.49},{"k":1,"s":"M","t":6.2,"v":0.47},{"k":1,"s":"M","t":6.22,"v":0.44},{"k":1,"s":"M","t":6.2,"v":0.41},{"k":1,"s":"M","t":6.18,"v":0.38},{"k":1,"s":"M","t":6.2,"v":0.35},{"k":1,"s":"M","t":6.22,"v":0.32},{"k":1,"s":"M","t":6.2,"v":0.3},{"k":1,"s":"M","t":6.18,"v":0.28},{"k":1,"s":"M","t":6.2,"v":0.26},{"k":1,"s":"M","t":6.22,"v":0.24},{"k":1,"s":"M","t":6.2,"v":0.22},{"k":1,"s":"M","t":6.25,"v":0.2},{"k":1,"s":"M","t":6.2,"v":0.18},{"k":1,"s":"M","t":6.22,"v":0.16},{"k":1,"s":"M","t":6.25,"v":0.14},{"k":1,"s":"M","t":6.2,"v":0.12},{"k":1,"s":"M","t":6.28,"v":0.1},{"k":1,"s":"M","t":6.3,"v":0.08},{"k":1,"s":"M","t":6.35,"v":0.06},{"k":1,"s":"M","t":6.4,"v":-0.06},{"k":1,"s":"M","t":6.45,"v":-0.07},
{"k":1,"s":"C","t":2.0,"v":0.368},{"k":1,"s":"C","t":1.0,"v":-0.22},{"k":1,"s":"C","t":10.07,"v":0.134},{"k":1,"s":"C","t":8.0,"v":-0.202},{"k":1,"s":"C","t":7.0,"v":-0.442},{"k":1,"s":"C","t":15.0,"v":0.49},{"k":1,"s":"C","t":17.0,"v":-0.075},{"k":1,"s":"C","t":19.0,"v":-0.16},{"k":1,"s":"C","t":20.0,"v":0.146},{"k":1,"s":"C","t":22.0,"v":-0.18},{"k":1,"s":"C","t":27.0,"v":0.175},
{"k":2,"s":"M","t":6.02,"v":0.452},{"k":2,"s":"M","t":12.9,"v":0.258},{"k":2,"s":"M","t":14.9,"v":0.218},{"k":2,"s":"M","t":16.85,"v":0.202},{"k":2,"s":"M","t":8.9,"v":0.162},{"k":2,"s":"M","t":9.85,"v":0.149},{"k":2,"s":"M","t":10.85,"v":0.109},{"k":2,"s":"M","t":2.9,"v":0.109},{"k":2,"s":"M","t":27.9,"v":0.358},{"k":2,"s":"M","t":24.8,"v":0.118},{"k":2,"s":"M","t":0.97,"v":-0.156},{"k":2,"s":"M","t":1.95,"v":-0.162},{"k":2,"s":"M","t":11.9,"v":-0.133},{"k":2,"s":"M","t":13.86,"v":-0.212},{"k":2,"s":"M","t":15.8,"v":-0.136},{"k":2,"s":"M","t":18.84,"v":-0.209},{"k":2,"s":"M","t":19.85,"v":-0.289},{"k":2,"s":"M","t":20.84,"v":-0.245},{"k":2,"s":"M","t":21.85,"v":-0.117},{"k":2,"s":"M","t":23.8,"v":-0.213},
{"k":2,"s":"C","t":26.8,"v":0.32},
{"k":3,"s":"M","t":4.9,"v":0.432},{"k":3,"s":"M","t":5.96,"v":0.366},{"k":3,"s":"M","t":5.96,"v":0.334},{"k":3,"s":"M","t":5.96,"v":0.199},{"k":3,"s":"M","t":5.96,"v":0.151},{"k":3,"s":"M","t":5.96,"v":0.127},{"k":3,"s":"M","t":5.88,"v":-0.228},{"k":3,"s":"M","t":5.96,"v":-0.445},{"k":3,"s":"M","t":7.92,"v":0.117},{"k":3,"s":"M","t":8.9,"v":-0.178},{"k":3,"s":"M","t":10.86,"v":-0.123},{"k":3,"s":"M","t":10.9,"v":0.218},{"k":3,"s":"M","t":14.9,"v":0.162},{"k":3,"s":"M","t":16.86,"v":-0.131},{"k":3,"s":"M","t":17.9,"v":0.157},{"k":3,"s":"M","t":18.97,"v":-0.131},{"k":3,"s":"M","t":20.9,"v":0.094},{"k":3,"s":"M","t":21.95,"v":-0.434},{"k":3,"s":"M","t":22.9,"v":-0.149},{"k":3,"s":"M","t":23.87,"v":0.078},{"k":3,"s":"M","t":25.94,"v":-0.213},{"k":3,"s":"M","t":26.96,"v":-0.152},
{"k":3,"s":"C","t":2.9,"v":0.105},{"k":3,"s":"C","t":4.9,"v":-0.249},{"k":3,"s":"C","t":6.9,"v":0.141},{"k":3,"s":"C","t":8.9,"v":-0.249},{"k":3,"s":"C","t":9.92,"v":0.102},{"k":3,"s":"C","t":13.88,"v":-0.281},{"k":3,"s":"C","t":17.9,"v":-0.394},{"k":3,"s":"C","t":18.93,"v":0.109},{"k":3,"s":"C","t":19.9,"v":-0.302},{"k":3,"s":"C","t":11.88,"v":-0.495},{"k":3,"s":"C","t":24.9,"v":0.07},{"k":3,"s":"C","t":26.96,"v":-0.233},
{"k":4,"s":"M","t":6.1,"v":0.487},{"k":4,"s":"M","t":6.1,"v":0.456},{"k":4,"s":"M","t":6.1,"v":0.175},{"k":4,"s":"M","t":6.1,"v":0.15},{"k":4,"s":"M","t":6.1,"v":-0.186},{"k":4,"s":"M","t":3.0,"v":0.18},{"k":4,"s":"M","t":1.0,"v":-0.285},{"k":4,"s":"M","t":2.0,"v":-0.159},{"k":4,"s":"M","t":5.0,"v":-0.102},{"k":4,"s":"M","t":8.0,"v":0.115},{"k":4,"s":"M","t":10.07,"v":-0.209},{"k":4,"s":"M","t":11.0,"v":-0.222},{"k":4,"s":"M","t":15.0,"v":-0.098},{"k":4,"s":"M","t":16.0,"v":-0.367},{"k":4,"s":"M","t":18.0,"v":0.11},{"k":4,"s":"M","t":19.0,"v":0.061},{"k":4,"s":"M","t":21.0,"v":-0.082},{"k":4,"s":"M","t":22.0,"v":-0.173},{"k":4,"s":"M","t":23.0,"v":-0.245},{"k":4,"s":"M","t":26.0,"v":-0.15},{"k":4,"s":"M","t":27.0,"v":0.292},{"k":4,"s":"M","t":28.0,"v":0.032},
{"k":4,"s":"C","t":1.0,"v":-0.259},{"k":4,"s":"C","t":2.0,"v":-0.098},{"k":4,"s":"C","t":3.0,"v":0.082},{"k":4,"s":"C","t":4.0,"v":-0.077},{"k":4,"s":"C","t":6.0,"v":-0.126},{"k":4,"s":"C","t":7.0,"v":-0.415},{"k":4,"s":"C","t":8.0,"v":-0.113},{"k":4,"s":"C","t":11.0,"v":0.261},{"k":4,"s":"C","t":12.07,"v":-0.479},{"k":4,"s":"C","t":15.0,"v":-0.178},{"k":4,"s":"C","t":16.0,"v":-0.498},{"k":4,"s":"C","t":17.0,"v":-0.085},{"k":4,"s":"C","t":18.0,"v":0.204},{"k":4,"s":"C","t":21.0,"v":-0.289},{"k":4,"s":"C","t":22.0,"v":-0.202},{"k":4,"s":"C","t":23.0,"v":-0.131},{"k":4,"s":"C","t":26.0,"v":0.123},{"k":4,"s":"C","t":27.0,"v":0.061},{"k":4,"s":"C","t":28.0,"v":0.183},
{"k":5,"s":"M","t":1.87,"v":0.227},{"k":5,"s":"M","t":11.87,"v":0.2},{"k":5,"s":"M","t":12.9,"v":0.22},{"k":5,"s":"M","t":10.85,"v":0.318},{"k":5,"s":"M","t":27.9,"v":0.402},{"k":5,"s":"M","t":14.9,"v":-0.163},{"k":5,"s":"M","t":19.85,"v":-0.227},{"k":5,"s":"M","t":23.8,"v":-0.227},{"k":5,"s":"M","t":26.75,"v":-0.316},{"k":5,"s":"M","t":6.9,"v":-0.21},{"k":5,"s":"M","t":20.84,"v":0.123},{"k":5,"s":"M","t":21.85,"v":0.232},
{"k":5,"s":"C","t":10.85,"v":0.31},{"k":5,"s":"C","t":15.9,"v":0.154},{"k":5,"s":"C","t":18.9,"v":0.237},{"k":5,"s":"C","t":3.95,"v":-0.194},{"k":5,"s":"C","t":19.9,"v":-0.186},{"k":5,"s":"C","t":5.94,"v":0.345},{"k":5,"s":"C","t":6.0,"v":0.33},
{"k":6,"s":"M","t":0.83,"v":0.102},{"k":6,"s":"M","t":2.9,"v":-0.142},{"k":6,"s":"M","t":5.88,"v":-0.22},{"k":6,"s":"M","t":7.92,"v":0.199},{"k":6,"s":"M","t":8.9,"v":0.167},{"k":6,"s":"M","t":10.94,"v":-0.097},{"k":6,"s":"M","t":11.9,"v":0.163},{"k":6,"s":"M","t":12.93,"v":-0.155},{"k":6,"s":"M","t":14.9,"v":0.216},{"k":6,"s":"M","t":18.93,"v":-0.251},{"k":6,"s":"M","t":22.9,"v":-0.207},
{"k":6,"s":"M","t":6.0,"v":0.49},{"k":6,"s":"M","t":6.0,"v":0.46},{"k":6,"s":"M","t":6.02,"v":0.42},{"k":6,"s":"M","t":6.0,"v":0.38},{"k":6,"s":"M","t":6.0,"v":0.35},{"k":6,"s":"M","t":6.02,"v":0.32},{"k":6,"s":"M","t":6.0,"v":0.3},{"k":6,"s":"M","t":6.0,"v":0.28},{"k":6,"s":"M","t":6.02,"v":0.25},{"k":6,"s":"M","t":6.0,"v":0.23},{"k":6,"s":"M","t":6.0,"v":0.21},{"k":6,"s":"M","t":6.02,"v":0.19},{"k":6,"s":"M","t":6.0,"v":0.17},{"k":6,"s":"M","t":6.0,"v":0.15},{"k":6,"s":"M","t":6.02,"v":0.13},{"k":6,"s":"M","t":6.0,"v":0.11},
{"k":6,"s":"C","t":2.9,"v":-0.269},{"k":6,"s":"C","t":3.88,"v":-0.292},{"k":6,"s":"C","t":6.9,"v":-0.243},{"k":6,"s":"C","t":7.92,"v":0.232},{"k":6,"s":"C","t":8.9,"v":0.05},{"k":6,"s":"C","t":14.9,"v":0.074},{"k":6,"s":"C","t":15.84,"v":-0.154},{"k":6,"s":"C","t":16.9,"v":-0.162},{"k":6,"s":"C","t":18.93,"v":-0.202},{"k":6,"s":"C","t":20.9,"v":0.113},{"k":6,"s":"C","t":21.95,"v":0.211},{"k":6,"s":"C","t":23.95,"v":0.134},{"k":6,"s":"C","t":24.97,"v":0.212},{"k":6,"s":"C","t":26.96,"v":0.048},{"k":6,"s":"C","t":25.9,"v":0.24}
]
},
"vconcat": [
{"hconcat": [
 {"width": 248, "height": 207, "view": {"stroke": "#404040"},
  "layer": [
   {"data": {"name": "bands"}, "transform": [{"filter": "datum.k == 1"}], "mark": {"type": "rule", "color": "#0000ff", "strokeWidth": 3.6, "strokeCap": "round", "clip": true},
    "encoding": {"x": {"field": "t", "type": "quantitative", "scale": {"domain": [0, 28], "nice": false, "zero": false}, "axis": {"values": [5, 10, 15, 20, 25], "title": "t/d"}},
     "y": {"field": "a", "type": "quantitative", "scale": {"domain": [-0.5, 0.5], "nice": false}, "axis": {"values": [-0.5, 0, 0.5], "format": "~g", "title": "径向误差/m", "titlePadding": 13}}, "y2": {"field": "b"}}},
   {"data": {"name": "bands"}, "transform": [{"filter": "datum.k == 1"}], "mark": {"type": "rule", "color": "#ff0000", "strokeWidth": 3.6, "strokeCap": "round", "clip": true},
    "encoding": {"x": {"field": "t", "type": "quantitative"}, "y": {"field": "c", "type": "quantitative"}, "y2": {"field": "d"}}},
   {"data": {"name": "pts"}, "transform": [{"filter": "datum.k == 1"}], "mark": {"type": "circle", "size": 10, "opacity": 1, "clip": true},
    "encoding": {"x": {"field": "t", "type": "quantitative"}, "y": {"field": "v", "type": "quantitative"},
     "color": {"field": "s", "type": "nominal", "scale": {"domain": ["M", "C"], "range": ["#0000ff", "#ff0000"]}, "legend": {"title": null, "orient": "none", "legendX": 131, "legendY": 15, "labelExpr": "datum.label == 'M' ? 'MADOCA' : 'CNES'"}}}},
   {"data": {"values": [{}]}, "mark": {"type": "text", "text": "G28", "align": "right", "baseline": "alphabetic", "font": "Liberation Serif", "fontSize": 23, "color": "#000"},
    "encoding": {"x": {"datum": 25.6}, "y": {"datum": -0.413}}}
  ]},
 {"hconcat": [
  {"width": 248, "height": 207, "view": {"stroke": "#404040"},
   "layer": [
    {"data": {"name": "bands"}, "transform": [{"filter": "datum.k == 2"}], "mark": {"type": "rule", "color": "#0000ff", "strokeWidth": 3.6, "strokeCap": "round", "clip": true},
     "encoding": {"x": {"field": "t", "type": "quantitative", "scale": {"domain": [0, 28], "nice": false, "zero": false}, "axis": {"values": [5, 10, 15, 20, 25], "title": "t/d"}},
      "y": {"field": "a", "type": "quantitative", "scale": {"domain": [-0.5, 0.5], "nice": false}, "axis": {"values": [-0.5, 0, 0.5], "format": "~g", "title": "切向误差/m", "titlePadding": 18}}, "y2": {"field": "b"}}},
    {"data": {"name": "bands"}, "transform": [{"filter": "datum.k == 2"}], "mark": {"type": "rule", "color": "#ff0000", "strokeWidth": 3.6, "strokeCap": "round", "clip": true},
     "encoding": {"x": {"field": "t", "type": "quantitative"}, "y": {"field": "c", "type": "quantitative"}, "y2": {"field": "d"}}},
    {"data": {"name": "pts"}, "transform": [{"filter": "datum.k == 2"}], "mark": {"type": "circle", "size": 10, "opacity": 1, "clip": true},
     "encoding": {"x": {"field": "t", "type": "quantitative"}, "y": {"field": "v", "type": "quantitative"},
      "color": {"field": "s", "type": "nominal", "scale": {"domain": ["M", "C"], "range": ["#0000ff", "#ff0000"]}, "legend": {"title": null, "orient": "none", "legendX": 122, "legendY": 15, "labelExpr": "datum.label == 'M' ? 'MADOCA' : 'CNES'"}}}},
    {"data": {"values": [{}]}, "mark": {"type": "text", "text": "G28", "align": "right", "baseline": "alphabetic", "font": "Liberation Serif", "fontSize": 23, "color": "#000"},
     "encoding": {"x": {"datum": 25.6}, "y": {"datum": -0.418}}}
   ]},
  {"width": 244, "height": 207, "view": {"stroke": null},
   "layer": [
    {"data": {"name": "bands"}, "transform": [{"filter": "datum.k == 3"}], "mark": {"type": "rule", "color": "#0000ff", "strokeWidth": 3.6, "strokeCap": "round", "clip": true},
     "encoding": {"x": {"field": "t", "type": "quantitative", "scale": {"domain": [0, 27.6], "nice": false, "zero": false}, "axis": {"values": [5, 10, 15, 20, 25], "title": "t/d"}},
      "y": {"field": "a", "type": "quantitative", "scale": {"domain": [-0.5, 0.5], "nice": false}, "axis": {"values": [-0.5, 0, 0.5], "format": "~g", "title": "法向误差/m", "titlePadding": 20}}, "y2": {"field": "b"}}},
    {"data": {"name": "bands"}, "transform": [{"filter": "datum.k == 3"}], "mark": {"type": "rule", "color": "#ff0000", "strokeWidth": 3.6, "strokeCap": "round", "clip": true},
     "encoding": {"x": {"field": "t", "type": "quantitative"}, "y": {"field": "c", "type": "quantitative"}, "y2": {"field": "d"}}},
    {"data": {"name": "pts"}, "transform": [{"filter": "datum.k == 3"}], "mark": {"type": "circle", "size": 10, "opacity": 1, "clip": true},
     "encoding": {"x": {"field": "t", "type": "quantitative"}, "y": {"field": "v", "type": "quantitative"},
      "color": {"field": "s", "type": "nominal", "scale": {"domain": ["M", "C"], "range": ["#0000ff", "#ff0000"]}, "legend": {"title": null, "orient": "none", "legendX": 127, "legendY": 15, "labelExpr": "datum.label == 'M' ? 'MADOCA' : 'CNES'"}}}},
    {"data": {"values": [{}]}, "mark": {"type": "text", "text": "G28", "align": "right", "baseline": "alphabetic", "font": "Liberation Serif", "fontSize": 23, "color": "#000"},
     "encoding": {"x": {"datum": 26.6}, "y": {"datum": -0.394}}},
    {"data": {"values": [{}]}, "mark": {"type": "rule", "color": "#404040", "strokeWidth": 1}, "encoding": {"y": {"datum": 0.5}}}
   ]}
 ], "spacing": 27, "resolve": {"scale": {"x": "independent", "y": "independent", "color": "independent"}, "legend": {"color": "independent"}}}
], "spacing": 22, "resolve": {"scale": {"x": "independent", "y": "independent", "color": "independent"}, "legend": {"color": "independent"}}},
{"hconcat": [
 {"width": 248, "height": 205, "view": {"stroke": "#404040"},
  "layer": [
   {"data": {"name": "bands"}, "transform": [{"filter": "datum.k == 4"}], "mark": {"type": "rule", "color": "#0000ff", "strokeWidth": 3.6, "strokeCap": "round", "clip": true},
    "encoding": {"x": {"field": "t", "type": "quantitative", "scale": {"domain": [0, 28], "nice": false, "zero": false}, "axis": {"values": [5, 10, 15, 20, 25], "title": "t/d"}},
     "y": {"field": "a", "type": "quantitative", "scale": {"domain": [-0.5, 0.5], "nice": false}, "axis": {"values": [-0.5, 0, 0.5], "format": "~g", "title": "径向误差/m", "titlePadding": 13}}, "y2": {"field": "b"}}},
   {"data": {"name": "bands"}, "transform": [{"filter": "datum.k == 4"}], "mark": {"type": "rule", "color": "#ff0000", "strokeWidth": 3.6, "strokeCap": "round", "clip": true},
    "encoding": {"x": {"field": "t", "type": "quantitative"}, "y": {"field": "c", "type": "quantitative"}, "y2": {"field": "d"}}},
   {"data": {"name": "pts"}, "transform": [{"filter": "datum.k == 4"}], "mark": {"type": "circle", "size": 10, "opacity": 1, "clip": true},
    "encoding": {"x": {"field": "t", "type": "quantitative"}, "y": {"field": "v", "type": "quantitative"},
     "color": {"field": "s", "type": "nominal", "scale": {"domain": ["M", "C"], "range": ["#0000ff", "#ff0000"]}, "legend": {"title": null, "orient": "none", "legendX": 123, "legendY": 13, "labelExpr": "datum.label == 'M' ? 'MADOCA' : 'CNES'"}}}},
   {"data": {"values": [{}]}, "mark": {"type": "text", "text": "R13", "align": "right", "baseline": "alphabetic", "font": "Liberation Serif", "fontSize": 23, "color": "#000"},
    "encoding": {"x": {"datum": 25.9}, "y": {"datum": -0.423}}}
  ]},
 {"hconcat": [
  {"width": 248, "height": 205, "view": {"stroke": "#404040"},
   "layer": [
    {"data": {"name": "bands"}, "transform": [{"filter": "datum.k == 5"}], "mark": {"type": "rule", "color": "#0000ff", "strokeWidth": 3.6, "strokeCap": "round", "clip": true},
     "encoding": {"x": {"field": "t", "type": "quantitative", "scale": {"domain": [0, 28], "nice": false, "zero": false}, "axis": {"values": [5, 10, 15, 20, 25], "title": "t/d"}},
      "y": {"field": "a", "type": "quantitative", "scale": {"domain": [-0.5, 0.5], "nice": false}, "axis": {"values": [-0.5, 0, 0.5], "format": "~g", "title": "切向误差/m", "titlePadding": 18}}, "y2": {"field": "b"}}},
    {"data": {"name": "bands"}, "transform": [{"filter": "datum.k == 5"}], "mark": {"type": "rule", "color": "#ff0000", "strokeWidth": 3.6, "strokeCap": "round", "clip": true},
     "encoding": {"x": {"field": "t", "type": "quantitative"}, "y": {"field": "c", "type": "quantitative"}, "y2": {"field": "d"}}},
    {"data": {"name": "pts"}, "transform": [{"filter": "datum.k == 5"}], "mark": {"type": "circle", "size": 10, "opacity": 1, "clip": true},
     "encoding": {"x": {"field": "t", "type": "quantitative"}, "y": {"field": "v", "type": "quantitative"},
      "color": {"field": "s", "type": "nominal", "scale": {"domain": ["M", "C"], "range": ["#0000ff", "#ff0000"]}, "legend": {"title": null, "orient": "none", "legendX": 130, "legendY": 13, "labelExpr": "datum.label == 'M' ? 'MADOCA' : 'CNES'"}}}},
    {"data": {"values": [{}]}, "mark": {"type": "text", "text": "R13", "align": "right", "baseline": "alphabetic", "font": "Liberation Serif", "fontSize": 23, "color": "#000"},
     "encoding": {"x": {"datum": 25.3}, "y": {"datum": -0.419}}}
   ]},
  {"width": 244, "height": 205, "view": {"stroke": null},
   "layer": [
    {"data": {"name": "bands"}, "transform": [{"filter": "datum.k == 6"}], "mark": {"type": "rule", "color": "#0000ff", "strokeWidth": 3.6, "strokeCap": "round", "clip": true},
     "encoding": {"x": {"field": "t", "type": "quantitative", "scale": {"domain": [0, 27.6], "nice": false, "zero": false}, "axis": {"values": [5, 10, 15, 20, 25], "title": "t/d"}},
      "y": {"field": "a", "type": "quantitative", "scale": {"domain": [-0.5, 0.5], "nice": false}, "axis": {"values": [-0.5, 0, 0.5], "format": "~g", "title": "法向误差/m", "titlePadding": 20}}, "y2": {"field": "b"}}},
    {"data": {"name": "bands"}, "transform": [{"filter": "datum.k == 6"}], "mark": {"type": "rule", "color": "#ff0000", "strokeWidth": 3.6, "strokeCap": "round", "clip": true},
     "encoding": {"x": {"field": "t", "type": "quantitative"}, "y": {"field": "c", "type": "quantitative"}, "y2": {"field": "d"}}},
    {"data": {"name": "pts"}, "transform": [{"filter": "datum.k == 6"}], "mark": {"type": "circle", "size": 10, "opacity": 1, "clip": true},
     "encoding": {"x": {"field": "t", "type": "quantitative"}, "y": {"field": "v", "type": "quantitative"},
      "color": {"field": "s", "type": "nominal", "scale": {"domain": ["M", "C"], "range": ["#0000ff", "#ff0000"]}, "legend": {"title": null, "orient": "none", "legendX": 124, "legendY": 13, "labelExpr": "datum.label == 'M' ? 'MADOCA' : 'CNES'"}}}},
    {"data": {"values": [{}]}, "mark": {"type": "text", "text": "R13", "align": "right", "baseline": "alphabetic", "font": "Liberation Serif", "fontSize": 23, "color": "#000"},
     "encoding": {"x": {"datum": 25.85}, "y": {"datum": -0.422}}},
    {"data": {"values": [{}]}, "mark": {"type": "rule", "color": "#404040", "strokeWidth": 1}, "encoding": {"y": {"datum": 0.5}}}
   ]}
 ], "spacing": 27, "resolve": {"scale": {"x": "independent", "y": "independent", "color": "independent"}, "legend": {"color": "independent"}}}
], "spacing": 22, "resolve": {"scale": {"x": "independent", "y": "independent", "color": "independent"}, "legend": {"color": "independent"}}}
],
"spacing": 4,
"resolve": {"scale": {"x": "independent", "y": "independent", "color": "independent"}, "legend": {"color": "independent"}},
"config": {
 "view": {"stroke": "#404040"},
 "axis": {"grid": false, "domain": true, "domainColor": "#404040", "domainWidth": 1, "ticks": true, "tickColor": "#404040", "tickSize": -4, "labelFont": "Liberation Serif", "labelFontSize": 20, "labelColor": "#000", "titleFont": "Liberation Serif, Noto Sans CJK SC", "titleFontWeight": "normal", "titleColor": "#000"},
 "axisX": {"labelPadding": 7, "titlePadding": 5, "titleFontSize": 24, "titleFontStyle": "italic"},
 "axisY": {"labelPadding": 11, "titleFontSize": 25},
 "legend": {"labelFont": "Liberation Serif", "labelFontSize": 19, "labelColor": "#000", "symbolType": "circle", "symbolSize": 12, "symbolStrokeWidth": 0, "padding": 2, "symbolOffset": 4, "labelOffset": 5, "rowPadding": -3, "strokeColor": "#404040", "fillColor": "#ffffff", "cornerRadius": 0}
}
}
